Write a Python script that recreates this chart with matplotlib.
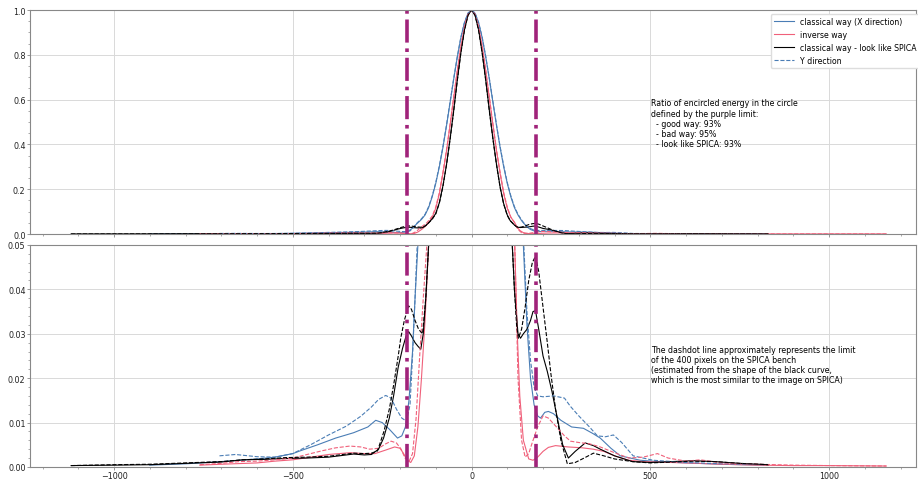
import matplotlib
matplotlib.use("Agg")
import matplotlib.pyplot as plt
from matplotlib.ticker import AutoMinorLocator

# ---- values ----
# classical way, X direction (blue solid)
x_cx = [-900, -800, -700, -600, -550, -500, -480, -430, -380, -330, -290, -268, -250, -230, -207, -195,
        -185, -175, -165, -158, -150, -140, -130, -120, -110, -100, -90, -80, -70, -60, -50, -40, -30,
        -20, -10, 0, 10, 20, 30, 40, 50, 60, 70, 80, 90, 100, 110, 120, 130, 140, 145, 155, 165, 175,
        185, 193, 205, 215, 229, 250, 280, 313, 340, 360, 390, 416, 472, 520, 600, 700, 820]
y_cx = [0.0004, 0.0007, 0.0012, 0.0018, 0.0022, 0.0030, 0.0036, 0.0050, 0.0065, 0.0077, 0.0090, 0.0105,
        0.0100, 0.0085, 0.0065, 0.0070, 0.0090, 0.0150, 0.0260, 0.0380, 0.050, 0.065, 0.085, 0.118,
        0.166, 0.226, 0.300, 0.386, 0.483, 0.586, 0.690, 0.788, 0.875, 0.942, 0.985, 1.0, 0.985, 0.942,
        0.875, 0.788, 0.690, 0.586, 0.483, 0.386, 0.300, 0.226, 0.166, 0.118, 0.085, 0.060, 0.050, 0.032,
        0.020, 0.014, 0.0115, 0.0110, 0.0123, 0.0125, 0.0120, 0.0105, 0.0090, 0.0087, 0.0075, 0.0065,
        0.0042, 0.0025, 0.0015, 0.0012, 0.0009, 0.0006, 0.0004]

# classical way, Y direction (blue dashed)
x_cy = [-705, -660, -600, -550, -500, -450, -400, -350, -310, -280, -260, -240, -225, -210, -195, -182,
        -172, -165, -158, -152, -140, -130, -120, -110, -100, -90, -80, -70, -60, -50, -40, -30, -20,
        -10, 0, 10, 20, 30, 40, 50, 60, 70, 80, 90, 100, 110, 120, 130, 140, 145, 155, 165, 175, 185,
        200, 230, 260, 276, 300, 330, 352, 375, 397, 420, 452, 508, 600, 700, 820]
y_cy = [0.0025, 0.0028, 0.0023, 0.0022, 0.0030, 0.0050, 0.0072, 0.0092, 0.0114, 0.0135, 0.0152, 0.0161,
        0.0155, 0.0130, 0.0110, 0.0103, 0.0140, 0.0250, 0.0380, 0.050, 0.068, 0.088, 0.122, 0.170, 0.230,
        0.305, 0.390, 0.487, 0.590, 0.693, 0.790, 0.877, 0.943, 0.986, 1.0, 0.986, 0.943, 0.877, 0.790,
        0.693, 0.590, 0.487, 0.390, 0.305, 0.230, 0.170, 0.122, 0.088, 0.063, 0.052, 0.035, 0.024, 0.018,
        0.016, 0.0158, 0.0160, 0.0155, 0.0137, 0.0115, 0.0090, 0.0070, 0.0068, 0.0072, 0.0055, 0.0025,
        0.0015, 0.0010, 0.0007, 0.0005]

# inverse way, X direction (red solid)
x_ix = [-760, -700, -600, -550, -500, -450, -400, -340, -300, -270, -240, -215, -200, -190, -180, -170,
        -160, -150, -140, -130, -120, -110, -100, -90, -80, -70, -60, -50, -40, -30, -20, -10, 0, 10,
        20, 30, 40, 50, 60, 70, 80, 90, 100, 110, 120, 128, 135, 145, 160, 172, 185, 200, 215, 235, 270,
        310, 340, 370, 400, 440, 480, 520, 600, 700, 800, 900, 1000, 1160]
y_ix = [0.0004, 0.0006, 0.0009, 0.0013, 0.0016, 0.0022, 0.0028, 0.0032, 0.0030, 0.0030, 0.0038, 0.0045,
        0.0042, 0.0030, 0.0015, 0.0010, 0.0025, 0.0090, 0.0200, 0.0330, 0.050, 0.075, 0.115, 0.180,
        0.270, 0.370, 0.485, 0.605, 0.725, 0.835, 0.923, 0.980, 1.0, 0.980, 0.923, 0.835, 0.725, 0.605,
        0.485, 0.370, 0.270, 0.180, 0.115, 0.075, 0.052, 0.030, 0.016, 0.006, 0.0018, 0.0015, 0.0022,
        0.0035, 0.0044, 0.0048, 0.0045, 0.0043, 0.0040, 0.0035, 0.0025, 0.0015, 0.0012, 0.0011, 0.0009,
        0.0006, 0.0004, 0.0003, 0.0003, 0.0002]

# inverse way, Y direction (red dashed)
x_iy = [-760, -700, -650, -600, -550, -500, -460, -420, -380, -340, -310, -285, -260, -240, -225, -210,
        -197, -186, -175, -165, -155, -145, -135, -125, -110, -100, -90, -80, -70, -60, -50, -40, -30,
        -20, -10, 0, 10, 20, 30, 40, 50, 60, 70, 80, 90, 100, 110, 121, 130, 140, 150, 160, 170, 185,
        200, 215, 240, 260, 277, 300, 330, 360, 400, 440, 480, 520, 550, 600, 640, 700, 800, 900, 1000,
        1160]
y_iy = [0.0005, 0.0008, 0.0012, 0.0013, 0.0016, 0.0020, 0.0028, 0.0036, 0.0043, 0.0047, 0.0045, 0.0040,
        0.0042, 0.0052, 0.0058, 0.0054, 0.0040, 0.0020, 0.0012, 0.0030, 0.0110, 0.0250, 0.0380, 0.050,
        0.080, 0.120, 0.185, 0.275, 0.375, 0.490, 0.610, 0.728, 0.838, 0.925, 0.981, 1.0, 0.981, 0.925,
        0.838, 0.728, 0.610, 0.490, 0.375, 0.275, 0.185, 0.120, 0.075, 0.050, 0.020, 0.006, 0.0022,
        0.0030, 0.0055, 0.0090, 0.0115, 0.0110, 0.0088, 0.0070, 0.0058, 0.0055, 0.0052, 0.0045, 0.0032,
        0.0020, 0.0022, 0.0030, 0.0020, 0.0013, 0.0016, 0.0009, 0.0006, 0.0004, 0.0003, 0.0002]

# classical way - look like SPICA, X direction (black solid)
x_sx = [-1120, -1000, -900, -800, -700, -640, -580, -520, -460, -400, -360, -330, -300, -280, -260, -246,
        -230, -218, -205, -193, -183, -176, -168, -158, -150, -142, -135, -128, -120, -110, -100, -90,
        -80, -70, -60, -50, -40, -30, -20, -10, 0, 10, 20, 30, 40, 50, 60, 70, 80, 90, 100, 108, 114,
        120, 130, 137, 145, 155, 165, 172, 179, 188, 200, 212, 225, 240, 255, 271, 290, 318, 341, 360,
        400, 450, 500, 560, 620, 680, 750, 830]
y_sx = [0.0003, 0.0004, 0.0005, 0.0008, 0.0011, 0.0016, 0.0017, 0.0019, 0.0020, 0.0022, 0.0026, 0.0029,
        0.0027, 0.0028, 0.0040, 0.0065, 0.0110, 0.0160, 0.0225, 0.0267, 0.0295, 0.0305, 0.0295, 0.0280,
        0.0272, 0.0265, 0.0300, 0.0380, 0.050, 0.068, 0.092, 0.140, 0.215, 0.310, 0.425, 0.550, 0.685,
        0.808, 0.910, 0.977, 1.0, 0.977, 0.910, 0.808, 0.685, 0.550, 0.425, 0.310, 0.210, 0.135, 0.085,
        0.060, 0.050, 0.040, 0.030, 0.029, 0.030, 0.031, 0.033, 0.035, 0.0352, 0.031, 0.025, 0.0215,
        0.0170, 0.0110, 0.0050, 0.0020, 0.0035, 0.0054, 0.0048, 0.0040, 0.0025, 0.0012, 0.0010, 0.0012,
        0.0014, 0.0012, 0.0008, 0.0005]

# classical way - look like SPICA, Y direction (black dashed)
x_sy = [-1120, -1000, -900, -800, -700, -640, -580, -520, -460, -400, -360, -330, -300, -280, -263, -245,
        -230, -218, -205, -198, -188, -176, -168, -158, -148, -137, -128, -120, -110, -100, -90, -80,
        -70, -60, -50, -40, -30, -20, -10, 0, 10, 20, 30, 40, 50, 60, 70, 80, 90, 100, 108, 114, 120,
        126, 131, 140, 150, 160, 170, 179, 188, 200, 212, 222, 235, 250, 268, 290, 315, 341, 370, 400,
        450, 500, 560, 620, 680, 750, 830]
y_sy = [0.0003, 0.0005, 0.0006, 0.0009, 0.0012, 0.0016, 0.0018, 0.0021, 0.0022, 0.0024, 0.0028, 0.0031,
        0.0030, 0.0031, 0.0036, 0.0080, 0.0130, 0.0184, 0.0250, 0.0290, 0.0330, 0.0363, 0.0355, 0.0330,
        0.0310, 0.0300, 0.0380, 0.050, 0.066, 0.090, 0.138, 0.212, 0.308, 0.422, 0.547, 0.682, 0.806,
        0.908, 0.976, 1.0, 0.976, 0.908, 0.806, 0.682, 0.547, 0.422, 0.308, 0.208, 0.133, 0.083, 0.060,
        0.050, 0.040, 0.032, 0.029, 0.031, 0.036, 0.042, 0.046, 0.0475, 0.044, 0.036, 0.028, 0.021,
        0.013, 0.006, 0.0007, 0.0010, 0.0020, 0.0031, 0.0025, 0.0018, 0.0012, 0.0009, 0.0011, 0.0013,
        0.0012, 0.0008, 0.0005]

limit = [-181, 181]

blue = '#4a7db5'
red = '#f0607a'
purple = '#a0237a'

plt.rcParams['font.size'] = 5.8

fig = plt.figure(figsize=(9.18, 4.81), dpi=100)
ax1 = fig.add_axes([0.0327, 0.5114, 0.965, 0.4657])
ax2 = fig.add_axes([0.0327, 0.0272, 0.965, 0.4614], sharex=ax1)


def draw(ax):
    ax.plot(x_cx, y_cx, color=blue, lw=0.8, label='classical way (X direction)')
    ax.plot(x_ix, y_ix, color=red, lw=0.8, label='inverse way')
    ax.plot(x_sx, y_sx, color='black', lw=0.8, label='classical way - look like SPICA')
    ax.plot(x_cy, y_cy, color=blue, lw=0.8, ls='--', label='Y direction')
    ax.plot(x_iy, y_iy, color=red, lw=0.8, ls='--')
    ax.plot(x_sy, y_sy, color='black', lw=0.8, ls='--')
    for xl in limit:
        ax.axvline(xl, color=purple, lw=2.6, ls='-.')
    ax.grid(True, color='#d9d9d9', lw=0.7)
    ax.set_axisbelow(True)
    ax.xaxis.set_minor_locator(AutoMinorLocator())
    ax.yaxis.set_minor_locator(AutoMinorLocator())
    for sp in ax.spines.values():
        sp.set_color('#888888')
    ax.tick_params(which='major', length=2.2, width=0.6, pad=1.0)
    ax.tick_params(which='minor', length=1.3, width=0.5)
    ax.tick_params(which='both', colors='#888888', labelcolor='#222222')


draw(ax1)
draw(ax2)

ax1.set_xlim(-1235, 1243)
ax1.set_ylim(0, 1.0)
ax2.set_ylim(0, 0.05)
ax1.tick_params(labelbottom=False)
ax2.set_xticks([-1000, -500, 0, 500, 1000])

ax1.legend(loc='upper left', bbox_to_anchor=(0.836, 0.982), borderaxespad=0, fontsize=5.6,
           handlelength=2.6, framealpha=1, edgecolor='#dddddd')

ax1.text(503, 0.605, "Ratio of encircled energy in the circle\ndefined by the purple limit:\n"
         "  - good way: 93%\n  - bad way: 95%\n  - look like SPICA: 93%",
         fontsize=5.7, va='top', ha='left', linespacing=1.15)
ax2.text(503, 0.0275, "The dashdot line approximately represents the limit\n"
         "of the 400 pixels on the SPICA bench\n(estimated from the shape of the black curve,\n"
         "which is the most similar to the image on SPICA)",
         fontsize=5.7, va='top', ha='left', linespacing=1.15)

fig.savefig('out.png', dpi=100)
